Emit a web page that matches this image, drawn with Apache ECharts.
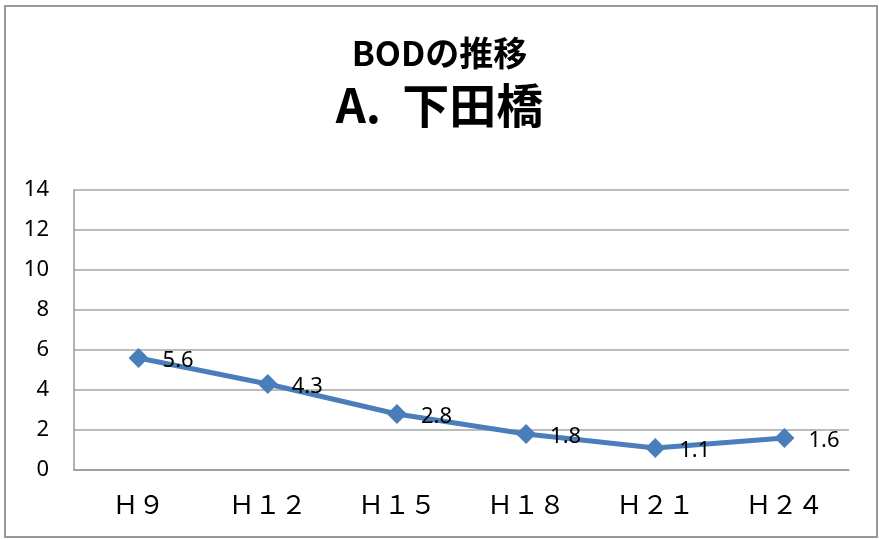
<!DOCTYPE html>
<html>
<head>
<meta charset="utf-8">
<script src="https://cdn.jsdelivr.net/npm/echarts@6/dist/echarts.min.js"></script>
<style>
  html, body { margin: 0; padding: 0; background: #fff; }
  #chart { width: 879px; height: 539px; }
</style>
</head>
<body>
<div id="chart"></div>
<script>
// データ
const categories = ['Ｈ９', 'Ｈ１２', 'Ｈ１５', 'Ｈ１８', 'Ｈ２１', 'Ｈ２４'];
const bodValues = [5.6, 4.3, 2.8, 1.8, 1.1, 1.6];
const yTicks = { min: 0, max: 14, interval: 2 };

const chart = echarts.init(document.getElementById('chart'));
const jp = '"Noto Sans CJK JP", sans-serif';

const option = {
  backgroundColor: '#fff',
  animation: false,
  title: [{
    text: 'BODの推移',
    left: 'center',
    top: 31,
    textStyle: { fontFamily: jp, fontSize: 34, fontWeight: 'bold', color: '#000' }
  }, {
    text: 'A.  下田橋',
    left: 'center',
    top: 77,
    textStyle: { fontFamily: jp, fontSize: 47, fontWeight: 'bold', color: '#000' }
  }],
  graphic: [{
    type: 'rect',
    shape: { x: 5, y: 6, width: 872, height: 531 },
    style: { fill: 'none', stroke: '#999', lineWidth: 2 },
    silent: true
  }],
  grid: { left: 74, right: 30, top: 190, bottom: 69 },
  xAxis: {
    type: 'category',
    data: categories,
    boundaryGap: true,
    axisLine: { show: true, lineStyle: { color: '#999', width: 1.5 } },
    axisTick: { show: false },
    axisLabel: { fontFamily: jp, fontSize: 26, color: '#000', margin: 21 }
  },
  yAxis: {
    type: 'value',
    min: yTicks.min,
    max: yTicks.max,
    interval: yTicks.interval,
    axisLine: { show: true, lineStyle: { color: '#999', width: 1.5 } },
    axisTick: { show: false },
    splitLine: { show: true, lineStyle: { color: '#a6a6a6', width: 1.5 } },
    axisLabel: { fontFamily: '"Noto Sans", sans-serif', fontSize: 22, color: '#000', margin: 25 }
  },
  series: [{
    type: 'line',
    data: bodValues,
    symbol: 'diamond',
    symbolSize: 20,
    itemStyle: { color: '#4a7ebb' },
    lineStyle: { color: '#4a7ebb', width: 5 },
    label: {
      show: true,
      position: 'right',
      distance: 14,
      offset: [0, 3],
      fontFamily: '"Noto Sans", sans-serif',
      fontSize: 22,
      color: '#000'
    }
  }]
};

chart.setOption(option);
</script>
</body>
</html>
